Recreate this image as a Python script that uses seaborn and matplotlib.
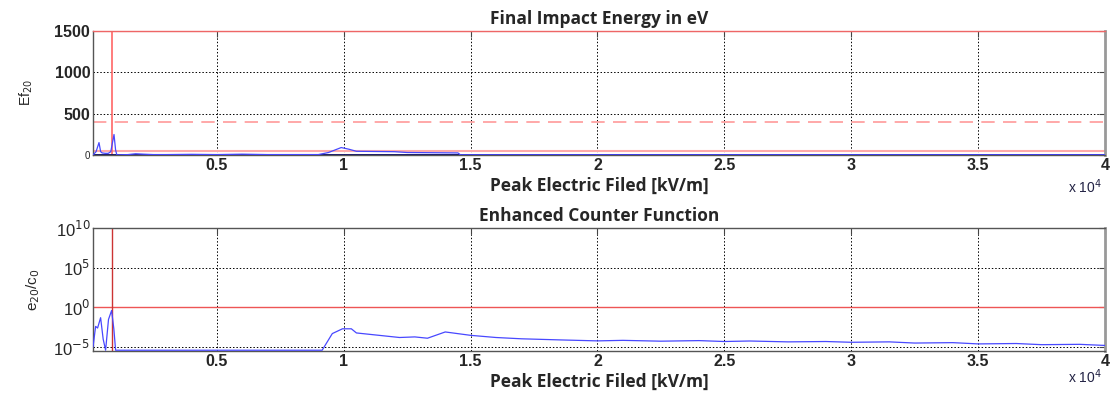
import numpy as np
import pandas as pd
import matplotlib
matplotlib.use("Agg")
import matplotlib.pyplot as plt
import seaborn as sns

# field in kV/m
energy_x = [120, 240, 356, 420, 480, 600, 720, 820, 947, 1010, 1060, 1500, 1800, 2100, 2500,
            3000, 4000, 5000, 6000, 7000, 8000, 9000, 9400, 9900, 10200, 10500, 12000,
            12500, 14500, 14600, 20000, 30000, 40000]
energy_ev = [0, 40, 150, 40, 25, 20, 20, 40, 248, 60, 0, 5, 15, 10, 5,
             5, 8, 5, 10, 5, 5, 5, 30, 90, 70, 45, 40,
             30, 25, 2, 2, 2, 2]

counter_x = [120, 222, 300, 419, 520, 616, 730, 852, 940, 1010, 9150, 9550, 9950, 10300,
             10500, 12200, 12800, 13300, 14000, 15000, 16000, 17000, 18500, 20000, 21000,
             22500, 24000, 25000, 26000, 27500, 29000, 30000, 31500, 32500, 34000, 35000,
             36500, 37500, 39000, 40000]
counter_val = [1e-5, 4e-3, 2.5e-3, 5e-2, 1e-4, 4e-6, 3e-2, 0.4, 2e-3, 4e-6, 4e-6, 5e-4, 2e-3, 2e-3,
               6e-4, 1.6e-4, 1.9e-4, 1.3e-4, 8e-4, 3e-4, 1.6e-4, 1.1e-4, 8e-5, 6e-5, 7e-5,
               5.5e-5, 6.5e-5, 5e-5, 5.8e-5, 4.5e-5, 5e-5, 4e-5, 4.5e-5, 3.2e-5, 3.6e-5, 2.5e-5,
               2.8e-5, 2e-5, 2.2e-5, 1.6e-5]

x_ticks = [5000, 10000, 15000, 20000, 25000, 30000, 35000, 40000]
x_ticklabels = ["0.5", "1", "1.5", "2", "2.5", "3", "3.5", "4"]
red_x = 880

sns.set_style("white")
plt.rcParams["font.family"] = ["Liberation Sans", "DejaVu Sans"]

fig = plt.figure(figsize=(11.1, 3.97), dpi=100)
ax1 = fig.add_axes([0.0838, 0.6096, 0.9117, 0.3123])
ax2 = fig.add_axes([0.0838, 0.1159, 0.9117, 0.3098])

title_font = dict(family=["Open Sans", "DejaVu Sans"], fontweight="bold", fontsize=12.5)

df1 = pd.DataFrame({"x": energy_x, "y": energy_ev})
df2 = pd.DataFrame({"x": counter_x, "y": counter_val})

# top panel
ax1.axhline(1500, color="#ee6666", lw=1.5, zorder=1)
ax1.axhline(400, color="#ff9999", lw=1.2, ls=(0, (8, 5)), zorder=1)
ax1.axhline(50, color="#ffaaaa", lw=1.5, zorder=1)
ax1.axvline(red_x, color="#ff6666", lw=1.2, zorder=1)
sns.lineplot(data=df1, x="x", y="y", ax=ax1, color="#4848ff", lw=0.9, zorder=3)
ax1.axhline(0, color="#101070", lw=1.4, zorder=2)
ax1.set_xlim(120, 40000)
ax1.set_ylim(0, 1500)
ax1.set_yticks([0, 500, 1000, 1500])
ax1.set_yticklabels(["0", "500", "1000", "1500"], fontweight="bold", fontsize=11.5)
ax1.get_yticklabels()[0].set_fontsize(7)
ax1.get_yticklabels()[0].set_fontweight("normal")
ax1.set_ylabel("Ef$_{20}$", fontsize=10, labelpad=14)
ax1.set_title("Final Impact Energy in eV", pad=5, **title_font)

# bottom panel
ax2.axhline(1, color="#ee5555", lw=1.0, zorder=1)
ax2.axvline(red_x, color="#cc3333", lw=1.0, zorder=1)
sns.lineplot(data=df2, x="x", y="y", ax=ax2, color="#4848ff", lw=0.9, zorder=3)
ax2.set_yscale("log")
ax2.set_xlim(120, 40000)
ax2.set_ylim(3.2e-6, 1e10)
ax2.set_yticks([1e-5, 1, 1e5, 1e10])
ax2.set_yticklabels(["10$^{-5}$", "10$^{0}$", "10$^{5}$", "10$^{10}$"], fontsize=12)
ax2.minorticks_off()
ax2.set_ylabel("e$_{20}$/c$_0$", fontsize=11, labelpad=8)
ax2.set_title("Enhanced Counter Function", pad=5, **title_font)

for ax in (ax1, ax2):
    ax.set_xticks(x_ticks)
    ax.set_xticklabels(x_ticklabels, fontweight="bold", fontsize=11.5)
    ax.set_xlabel("Peak Electric Filed [kV/m]", labelpad=3, **title_font)
    ax.grid(True, color="black", ls=(0, (1.5, 2)), lw=0.7)
    ax.tick_params(direction="in", length=4, top=True, right=True, pad=2, color="#444444")
    for s in ax.spines.values():
        s.set_color("#555555")
        s.set_linewidth(1.0)
    ax.spines["right"].set_color("#999999")
    ax.spines["right"].set_linewidth(2)
ax1.spines["top"].set_color("#ee6666")

fig.text(0.977, 0.515, "x 10$^{4}$", fontsize=10, color="#222244", ha="center")
fig.text(0.977, 0.035, "x 10$^{4}$", fontsize=10, color="#222244", ha="center")

fig.savefig("out.png", dpi=100)
